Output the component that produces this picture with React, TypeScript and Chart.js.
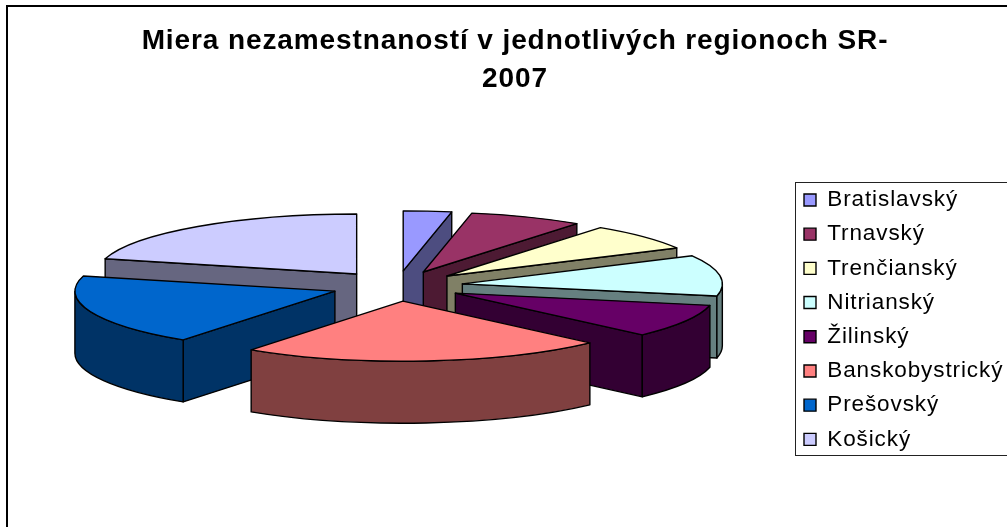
import React, { useEffect, useRef } from "react";
import { Chart, registerables } from "chart.js";

Chart.register(...registerables);

const categories = ["Bratislavský", "Trnavský", "Trenčianský", "Nitrianský", "Žilinský", "Banskobystrický", "Prešovský", "Košický"];
const values = [2.2, 5.2, 5.3, 8.1, 6.6, 16.7, 14.1, 15.4];
const topColors = ["#9999FF", "#993366", "#FFFFCC", "#CCFFFF", "#660066", "#FF8080", "#0066CC", "#CCCCFF"];
const sideColors = ["#4D4D80", "#4D1A33", "#808066", "#668080", "#330033", "#804040", "#003366", "#666680"];
const titleLines = ["Miera nezamestnaností v jednotlivých regionoch SR-", "2007"];

const CX = 397, CY = 286, RX = 260, RY = 60, EXPLODE = 66, DEPTH = 62;

const pie3d = {
  id: "pie3d",
  beforeDraw(chart: any) {
    const c = chart.ctx;
    c.save();
    c.fillStyle = "#fff";
    c.fillRect(0, 0, chart.width, chart.height);
    c.strokeStyle = "#000";
    c.lineWidth = 2;
    c.beginPath();
    c.moveTo(7, chart.height);
    c.lineTo(7, 6);
    c.lineTo(chart.width, 6);
    c.stroke();
    c.lineWidth = 1;
    c.strokeStyle = "#222";
    c.strokeRect(795.5, 182.5, 400, 273);
    c.restore();
    c.letterSpacing = "0.9px";
  },
  afterLayout(chart: any) {
    const l = chart.legend;
    const h = l.bottom - l.top;
    l.left = 792.3;
    l.right = 1007;
    l.top = 177;
    l.bottom = 177 + h;
  },
  beforeDatasetDraw(chart: any, args: any) {
    const c = chart.ctx;
    const arcs = [...args.meta.data];
    const R0 = arcs[0].outerRadius;
    const sx = RX / R0;
    const sy = RY / R0;
    const off = EXPLODE / sx;
    const dep = DEPTH / sy;
    const ordered = arcs
      .map((el: any, i: number) => ({ el, i, mid: (el.startAngle + el.endAngle) / 2 }))
      .sort((a: any, b: any) => Math.sin(a.mid) - Math.sin(b.mid));

    const face = (el: any, ox: number, oy: number, build: () => void, fill: string) => {
      c.save();
      c.translate(CX, CY);
      c.scale(sx, sy);
      c.translate(-el.x + ox, -el.y + oy);
      c.beginPath();
      build();
      c.fillStyle = fill;
      c.fill();
      c.setTransform(1, 0, 0, 1, 0, 0);
      c.lineWidth = 1.4;
      c.lineJoin = "round";
      c.strokeStyle = "#000";
      c.stroke();
      c.restore();
    };

    for (const { el, i, mid } of ordered) {
      const ox = Math.cos(mid) * off;
      const oy = Math.sin(mid) * off;
      const { x, y, startAngle: a, endAngle: b, outerRadius: r } = el;
      const side = sideColors[i];
      const wall = (t: number) => () => {
        c.moveTo(x, y);
        c.lineTo(x + Math.cos(t) * r, y + Math.sin(t) * r);
        c.lineTo(x + Math.cos(t) * r, y + Math.sin(t) * r + dep);
        c.lineTo(x, y + dep);
        c.closePath();
      };
      if (Math.cos(a) < -1e-6) face(el, ox, oy, wall(a), side);
      if (Math.cos(b) > 1e-6) face(el, ox, oy, wall(b), side);
      const r1 = Math.max(a, 0);
      const r2 = Math.min(b, Math.PI);
      if (r2 > r1) {
        face(el, ox, oy, () => {
          c.arc(x, y, r, r1, r2);
          c.arc(x, y + dep, r, r2, r1, true);
          c.closePath();
        }, side);
      }
      c.save();
      c.translate(CX, CY);
      c.scale(sx, sy);
      c.translate(-x + ox, -y + oy);
      el.draw(c);
      c.restore();
      face(el, ox, oy, () => {
        c.moveTo(x, y);
        c.arc(x, y, r, a, b);
        c.closePath();
      }, topColors[i]);
    }
    return false;
  },
};

export default function App() {
  const ref = useRef<HTMLCanvasElement>(null);
  useEffect(() => {
    const chart = new Chart(ref.current as HTMLCanvasElement, {
      type: "pie",
      data: {
        labels: categories,
        datasets: [{ data: values, backgroundColor: topColors, borderWidth: 0 }],
      },
      options: {
        responsive: false,
        animation: false,
        layout: { padding: { left: 23 } },
        plugins: {
          title: {
            display: true,
            text: titleLines,
            color: "#000",
            font: { family: "Liberation Sans", size: 28, weight: "bold", lineHeight: 1.36 },
            padding: { top: 22, bottom: 10 },
          },
          legend: {
            position: "right",
            align: "start",
            labels: {
              boxWidth: 12,
              boxHeight: 12,
              padding: 11.7,
              color: "#000",
              font: { family: "Liberation Sans", size: 22.5 },
              generateLabels: (ch: any) =>
                (Chart as any).overrides.pie.plugins.legend.labels
                  .generateLabels(ch)
                  .map((item: any) => ({ ...item, strokeStyle: "#000", lineWidth: 1.4 })),
            },
          },
          tooltip: { enabled: false },
        },
      },
      plugins: [pie3d],
    } as any);
    return () => chart.destroy();
  }, []);
  return (
    <div style={{ position: "absolute", left: 0, top: 0, width: 1007, height: 527 }}>
      <canvas ref={ref} width={1007} height={527} style={{ display: "block" }} />
    </div>
  );
}
